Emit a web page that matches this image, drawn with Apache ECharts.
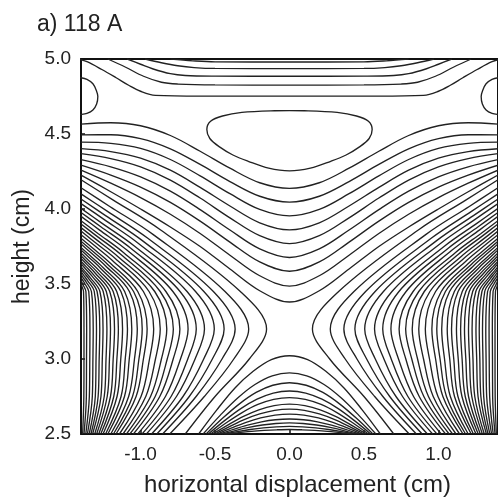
<!DOCTYPE html>
<html>
<head>
<meta charset="UTF-8">
<title>a) 118 A</title>
<script src="https://cdn.jsdelivr.net/npm/echarts/dist/echarts.min.js"></script>
<style>
  html, body { margin: 0; padding: 0; background: #fff; }
  #main { width: 498px; height: 502px; }
</style>
</head>
<body>
<div id="main"></div>
<script type="text/javascript">
// contour lines, left half only (x <= 0), in cm.
// the field is symmetric about x = 0, the right half is the mirror image.

// lines near the top edge, from the top edge to the centre
var topLines = [
  [[-0.80, 5.0], [-0.65, 4.988], [-0.5, 4.981], [0, 4.98]],
  [[-0.97, 5.0], [-0.86, 4.975], [-0.75, 4.955], [-0.64, 4.943], [-0.5, 4.937], [0, 4.936]],
  [[-1.09, 5.0], [-1.0, 4.965], [-0.92, 4.935], [-0.8, 4.902], [-0.7, 4.89], [-0.5, 4.886], [0, 4.885]],
  [[-1.22, 5.0], [-1.1, 4.945], [-0.98, 4.885], [-0.86, 4.845], [-0.75, 4.833], [-0.5, 4.827], [0, 4.826]],
  [[-1.42, 5.0], [-1.36, 4.982], [-1.26, 4.93], [-1.164, 4.875], [-1.08, 4.825], [-1.0, 4.785], [-0.9, 4.758], [-0.6, 4.753], [0, 4.753]]
];

// closed loop round the minimum at (0, 4.45), top -> left tip -> bottom
var centreLoop = [[0, 4.656], [-0.1, 4.655], [-0.32, 4.644], [-0.45, 4.62], [-0.53, 4.585], [-0.555, 4.53],
  [-0.535, 4.47], [-0.47, 4.414], [-0.38, 4.36], [-0.277, 4.318], [-0.14, 4.272], [0, 4.254]];

// half loop against the side wall
var edgeLoop = [[-1.45, 4.878], [-1.40, 4.875], [-1.36, 4.864], [-1.32, 4.835], [-1.297, 4.79], [-1.287, 4.75],
  [-1.295, 4.70], [-1.32, 4.66], [-1.36, 4.637], [-1.40, 4.63], [-1.45, 4.628]];

// lines above the saddle point: height at each x
var uLineX = [-1.4, -1.2, -1.0, -0.8, -0.6, -0.4, -0.2, 0];
var uLines = [
  [4.566, 4.575, 4.555, 4.490, 4.385, 4.272, 4.175, 4.138],
  [4.494, 4.495, 4.469, 4.401, 4.297, 4.183, 4.085, 4.046],
  [4.446, 4.438, 4.404, 4.330, 4.221, 4.102, 3.997, 3.954],
  [4.402, 4.383, 4.339, 4.259, 4.144, 4.020, 3.908, 3.861],
  [4.369, 4.336, 4.281, 4.193, 4.073, 3.941, 3.822, 3.769],
  [4.329, 4.281, 4.214, 4.119, 3.996, 3.860, 3.734, 3.677],
  [4.292, 4.226, 4.146, 4.044, 3.919, 3.779, 3.647, 3.585],
  [4.259, 4.172, 4.076, 3.965, 3.837, 3.692, 3.555, 3.486],
  [4.226, 4.115, 4.000, 3.880, 3.750, 3.600, 3.455, 3.380]
];

// arcs at the side: x at these heights, then two points of the upper bend and the height where they meet the wall
var arcHeights = [2.5, 2.75, 3.0, 3.2, 3.45];
var arcLowerX = [
  [-0.700, -0.500, -0.270, -0.154, -0.330],
  [-0.804, -0.572, -0.374, -0.274, -0.433],
  [-0.852, -0.627, -0.453, -0.365, -0.511],
  [-0.891, -0.673, -0.518, -0.439, -0.575],
  [-0.926, -0.715, -0.576, -0.505, -0.631],
  [-0.961, -0.759, -0.634, -0.571, -0.688],
  [-0.990, -0.795, -0.683, -0.626, -0.735],
  [-1.019, -0.833, -0.732, -0.681, -0.783],
  [-1.048, -0.871, -0.781, -0.736, -0.830],
  [-1.072, -0.902, -0.821, -0.780, -0.868],
  [-1.095, -0.933, -0.860, -0.824, -0.905],
  [-1.118, -0.965, -0.900, -0.868, -0.943],
  [-1.142, -0.997, -0.940, -0.912, -0.981],
  [-1.165, -1.030, -0.981, -0.956, -1.019],
  [-1.182, -1.054, -1.011, -0.989, -1.047],
  [-1.200, -1.080, -1.041, -1.022, -1.075],
  [-1.220, -1.108, -1.076, -1.059, -1.107],
  [-1.235, -1.131, -1.103, -1.088, -1.132],
  [-1.252, -1.158, -1.133, -1.121, -1.160],
  [-1.267, -1.180, -1.159, -1.149, -1.184],
  [-1.281, -1.202, -1.184, -1.175, -1.207],
  [-1.295, -1.224, -1.209, -1.202, -1.230],
  [-1.308, -1.244, -1.232, -1.226, -1.251],
  [-1.322, -1.266, -1.257, -1.252, -1.273],
  [-1.333, -1.285, -1.278, -1.274, -1.292],
  [-1.345, -1.304, -1.299, -1.296, -1.311],
  [-1.357, -1.324, -1.320, -1.318, -1.330],
  [-1.368, -1.344, -1.341, -1.340, -1.348],
  [-1.380, -1.364, -1.363, -1.362, -1.367],
  [-1.389, -1.381, -1.380, -1.380, -1.383]
];
var arcUpper = [
  [-0.865, 3.860, -1.186, 4.061, 4.195],
  [-0.917, 3.831, -1.207, 4.017, 4.142],
  [-0.956, 3.808, -1.222, 3.984, 4.101],
  [-0.988, 3.789, -1.235, 3.956, 4.067],
  [-1.016, 3.772, -1.246, 3.931, 4.036],
  [-1.044, 3.755, -1.258, 3.904, 4.004],
  [-1.068, 3.740, -1.267, 3.882, 3.977],
  [-1.092, 3.726, -1.277, 3.861, 3.951],
  [-1.115, 3.710, -1.286, 3.837, 3.922],
  [-1.134, 3.698, -1.294, 3.819, 3.900],
  [-1.153, 3.684, -1.301, 3.799, 3.876],
  [-1.172, 3.672, -1.309, 3.780, 3.853],
  [-1.191, 3.658, -1.316, 3.761, 3.829],
  [-1.210, 3.645, -1.324, 3.741, 3.805],
  [-1.224, 3.634, -1.329, 3.725, 3.785],
  [-1.238, 3.624, -1.335, 3.710, 3.767],
  [-1.254, 3.612, -1.341, 3.691, 3.744],
  [-1.266, 3.602, -1.346, 3.677, 3.727],
  [-1.280, 3.591, -1.352, 3.660, 3.706],
  [-1.292, 3.581, -1.357, 3.645, 3.688],
  [-1.304, 3.572, -1.361, 3.631, 3.671],
  [-1.315, 3.561, -1.366, 3.616, 3.652],
  [-1.326, 3.552, -1.370, 3.602, 3.635],
  [-1.337, 3.541, -1.375, 3.586, 3.616],
  [-1.346, 3.533, -1.378, 3.573, 3.600],
  [-1.356, 3.523, -1.382, 3.558, 3.582],
  [-1.365, 3.513, -1.386, 3.543, 3.564],
  [-1.374, 3.502, -1.390, 3.527, 3.544],
  [-1.384, 3.490, -1.393, 3.509, 3.522],
  [-1.392, 3.479, -1.397, 3.493, 3.503]
];

// arches below the saddle point, from the bottom edge to the centre
var arches = [
  [[-0.61, 2.5], [-0.488, 2.661], [-0.366, 2.807], [-0.244, 2.918], [-0.122, 2.996], [0, 3.022]],
  [[-0.58, 2.5], [-0.464, 2.626], [-0.348, 2.740], [-0.232, 2.830], [-0.116, 2.888], [0, 2.908]],
  [[-0.56, 2.5], [-0.448, 2.606], [-0.336, 2.701], [-0.224, 2.777], [-0.112, 2.825], [0, 2.842]],
  [[-0.545, 2.5], [-0.436, 2.589], [-0.327, 2.669], [-0.218, 2.732], [-0.109, 2.773], [0, 2.787]],
  [[-0.53, 2.5], [-0.424, 2.575], [-0.318, 2.643], [-0.212, 2.697], [-0.106, 2.731], [0, 2.743]],
  [[-0.515, 2.5], [-0.412, 2.561], [-0.309, 2.617], [-0.206, 2.661], [-0.103, 2.689], [0, 2.699]],
  [[-0.5, 2.5], [-0.4, 2.551], [-0.3, 2.598], [-0.2, 2.634], [-0.1, 2.658], [0, 2.666]],
  [[-0.485, 2.5], [-0.388, 2.541], [-0.291, 2.578], [-0.194, 2.607], [-0.097, 2.626], [0, 2.633]],
  [[-0.47, 2.5], [-0.376, 2.531], [-0.282, 2.559], [-0.188, 2.581], [-0.094, 2.595], [0, 2.600]],
  [[-0.455, 2.5], [-0.364, 2.523], [-0.273, 2.544], [-0.182, 2.560], [-0.091, 2.570], [0, 2.574]],
  [[-0.44, 2.5], [-0.352, 2.516], [-0.264, 2.530], [-0.176, 2.541], [-0.088, 2.548], [0, 2.551]],
  [[-0.425, 2.5], [-0.34, 2.509], [-0.255, 2.518], [-0.17, 2.524], [-0.085, 2.528], [0, 2.530]]
];

var xTicks = [-1.0, -0.5, 0.0, 0.5, 1.0];

var lineColor = '#222';
var font = 'Liberation Sans, Arial, sans-serif';

function mirror(pts) {
  return pts.map(function (p) { return [-p[0], p[1]]; });
}
// left half ending at x = 0  ->  whole line
function fullWidth(left) {
  return left.concat(mirror(left).reverse().slice(1));
}
function contour(data) {
  return {
    type: 'line', data: data, smooth: 0.35, symbol: 'none', silent: true,
    animation: false, clip: true,
    lineStyle: { color: lineColor, width: 1.35 }
  };
}

var series = [];
topLines.forEach(function (l) { series.push(contour(fullWidth(l))); });
series.push(contour(fullWidth(centreLoop)));
series.push(contour(edgeLoop));
series.push(contour(mirror(edgeLoop)));
uLines.forEach(function (row) {
  var left = uLineX.map(function (x, i) { return [x, row[i]]; });
  series.push(contour(fullWidth(left)));
});
arcLowerX.forEach(function (row, k) {
  var up = arcUpper[k];
  var pts = row.map(function (x, i) { return [x, arcHeights[i]]; });
  pts.push([up[0], up[1]], [up[2], up[3]], [-1.4, up[4]]);
  series.push(contour(pts));
  series.push(contour(mirror(pts)));
});
arches.forEach(function (a) { series.push(contour(fullWidth(a))); });

var myChart = echarts.init(document.getElementById('main'));
var option = {
  backgroundColor: '#fff',
  title: {
    text: 'a) 118 A', left: 32, top: 8,
    textStyle: { fontFamily: font, fontSize: 23, fontWeight: 'normal', color: '#222' }
  },
  grid: { left: 81, right: -8, top: 59, bottom: 64 },
  xAxis: [{
    type: 'value', min: -1.4, max: 1.4, position: 'bottom',
    name: 'horizontal displacement (cm)', nameLocation: 'middle', nameGap: 39,
    nameTextStyle: { fontFamily: font, fontSize: 24, color: '#222', padding: [0, 0, 0, 16] },
    axisLine: { show: true, onZero: false, lineStyle: { color: '#111', width: 2 } },
    axisTick: { show: true, inside: true, length: 4, customValues: xTicks, lineStyle: { color: '#111', width: 1.5 } },
    axisLabel: {
      customValues: xTicks, margin: 11, fontFamily: font, fontSize: 19, color: '#222',
      formatter: function (v) { return v.toFixed(1); }
    },
    splitLine: { show: false }
  }, {
    type: 'value', min: -1.4, max: 1.4, position: 'top',
    axisLine: { show: true, onZero: false, lineStyle: { color: '#111', width: 2 } },
    axisTick: { show: false }, axisLabel: { show: false }, splitLine: { show: false }
  }],
  yAxis: [{
    type: 'value', min: 2.5, max: 5.0, interval: 0.5, position: 'left',
    name: 'height (cm)', nameLocation: 'middle', nameGap: 44,
    nameTextStyle: { fontFamily: font, fontSize: 23, color: '#222' },
    axisLine: { show: true, onZero: false, lineStyle: { color: '#111', width: 2 } },
    axisTick: { show: true, inside: true, length: 4, lineStyle: { color: '#111', width: 1.5 } },
    axisLabel: {
      margin: 10, fontFamily: font, fontSize: 19, color: '#222',
      formatter: function (v) { return v.toFixed(1); }
    },
    splitLine: { show: false }
  }, {
    type: 'value', min: 2.5, max: 5.0, position: 'right',
    axisLine: { show: true, onZero: false, lineStyle: { color: '#111', width: 2 } },
    axisTick: { show: false }, axisLabel: { show: false }, splitLine: { show: false }
  }],
  series: series
};
myChart.setOption(option);
</script>
</body>
</html>
